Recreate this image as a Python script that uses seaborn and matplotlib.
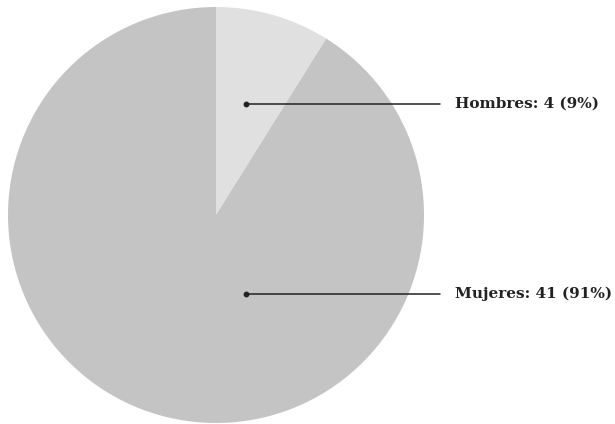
import matplotlib
matplotlib.use("Agg")
import matplotlib.pyplot as plt
import seaborn as sns
import numpy as np

# data
categories = ["Hombres", "Mujeres"]
counts = [4, 41]
colors = ["#e0e0e0", "#c4c4c4"]

sns.set_theme(style="white")
plt.rcParams['font.family'] = ['DejaVu Serif']

fig = plt.figure(figsize=(6.15, 4.24), dpi=100)
ax = fig.add_axes([8 / 615, 1 / 424, 416 / 615, 416 / 424])

total = sum(counts)
wedges, _ = ax.pie(counts, colors=colors, startangle=90, counterclock=False,
                   radius=1, wedgeprops=dict(linewidth=0))
ax.set_xlim(-1, 1)
ax.set_ylim(-1, 1)
ax.set_aspect('equal')
ax.axis('off')

# label anchors (dot inside slice, line out to the text)
anchors = {"Hombres": (0.144, 0.534), "Mujeres": (0.144, -0.38)}
for cat, n in zip(categories, counts):
    x0, y0 = anchors[cat]
    pct = round(100 * n / total)
    ax.plot([x0, 1.077], [y0, y0], color="#222222", lw=1.1, clip_on=False)
    ax.plot(x0, y0, 'o', color="#222222", ms=3.2, clip_on=False)
    ax.text(1.15, y0, f"{cat}: {n} ({pct}%)", fontsize=11, fontweight='bold',
            color="#222222", va='center', ha='left', clip_on=False)

fig.savefig("out.png", dpi=100)
